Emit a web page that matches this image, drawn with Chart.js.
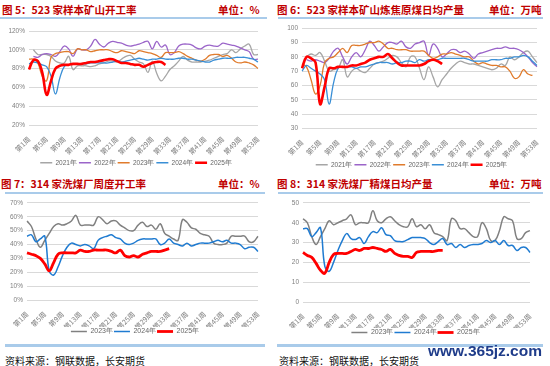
<!DOCTYPE html>
<html><head><meta charset="utf-8">
<script src="https://cdn.jsdelivr.net/npm/chart.js@4.4.1/dist/chart.umd.min.js"></script>
<style>
html,body{margin:0;padding:0;background:#fff;width:550px;height:366px;overflow:hidden;}
body{position:relative;}
.t{position:absolute;font-family:"Noto Sans CJK SC";font-weight:bold;font-size:10.5px;color:#c00000;line-height:12px;white-space:nowrap;}
.ln{position:absolute;background:#a9cbea;z-index:2;}
.src{position:absolute;font-family:"Noto Sans CJK SC";font-size:10px;color:#111;line-height:12px;white-space:nowrap;}
.wm{position:absolute;font-family:"Liberation Sans";font-weight:bold;font-size:15.5px;color:#1f3c8a;line-height:16px;white-space:nowrap;z-index:3;}
canvas{position:absolute;}
</style></head><body>
<div class="t" style="left:2px;top:4px">图 5：523 家样本矿山开工率</div>
<div class="t" style="left:218px;top:4px">单位：%</div>
<div class="t" style="left:277px;top:4px">图 6：523 家样本矿山炼焦原煤日均产量</div>
<div class="t" style="left:489px;top:4px">单位：万吨</div>
<div class="ln" style="left:0;top:17px;width:267px;height:2px"></div>
<div class="ln" style="left:278px;top:17px;width:265px;height:2px"></div>
<div class="t" style="left:1px;top:178px">图 7：314 家洗煤厂周度开工率</div>
<div class="t" style="left:218px;top:178px">单位：%</div>
<div class="t" style="left:277px;top:178px">图 8：314 家洗煤厂精煤日均产量</div>
<div class="t" style="left:489px;top:178px">单位：万吨</div>
<div class="ln" style="left:5px;top:192px;width:260px;height:2px"></div>
<div class="ln" style="left:278px;top:192px;width:265px;height:2px"></div>
<canvas id="c5" width="270" height="156" style="left:0;top:20px"></canvas>
<canvas id="c6" width="273" height="158" style="left:275px;top:20px"></canvas>
<canvas id="c7" width="270" height="150" style="left:0;top:195px"></canvas>
<canvas id="c8" width="270" height="151" style="left:280px;top:195px"></canvas>
<div class="ln" style="left:5px;top:344px;width:260px;height:2.5px"></div>
<div class="ln" style="left:277px;top:344px;width:266px;height:2.5px"></div>
<div class="src" style="left:5px;top:355px">资料来源：钢联数据，长安期货</div>
<div class="src" style="left:279px;top:355px">资料来源：钢联数据，长安期货</div>
<div class="wm" style="left:428px;top:343px">www.365jz.com</div>
<script>
const weeks = Array.from({length:53}, (_, i) => '第' + (i + 1) + '周');

// 图5 开工率 (%)
const fig5_2021 = [null,100,95,95,95,93,88,86,86,93,79,83,83,83,82,83,85,86,88,88,87,90,93,94,90,87,85,76,88,75,67,72,79,83,88,93,89,87,87,87,88,89,91,93,95,96,100,97,101,104,106,95,95];
const fig5_2022 = [null,93,92,95,96,95,93,98,104,101,93,101,100,100,104,111,106,103,107,109,108,107,105,104,105,106,108,109,101,109,103,105,95,97,104,106,106,105,102,101,104,105,104,104,107,106,105,104,102,100,98,90,90];
const fig5_2023 = [90,90,86,72,67,92,96,97,98,98,96,101,100,100,98,99,100,100,100,98,97,99,98,97,96,99,98,97,96,94,92,97,97,97,98,96,93,91,89,88,90,94,95,95,93,94,91,87,86,87,86,84,80];
const fig5_2024 = [85,87,86,84,82,72,53,70,82,84,85,85,85,85,86,86,86,86,86,87,88,87,88,89,90,91,90,89,90,90,91,90,90,90,91,91,90,90,89,88,87,87,89,90,91,91,91,92,92,92,91,90,87];
const fig5_2025 = [79,89,88,76,52,67,80,83,84,84,85,85,85,86,87,87,88,89,90,90,88,86,86,85,84,84,82,84,86,87,87,84];

// 图6 炼焦原煤日均产量 (万吨)
const fig6_2021 = [null,80,82,81,83,77,70,71,72,78,66,70,72,70,69,72,75,76,77,79,81,80,76,73,80,80,72,64,73,66,59,64,68,72,75,77,76,75,75,74,73,72,71,72,75,74,80,78,80,83,84,80,76];
const fig6_2022 = [null,78,77,78,77,76,79,84,86,80,75,80,83,80,85,91,88,84,87,90,90,89,91,87,86,89,90,91,81,89,86,80,82,85,85,83,84,82,79,82,83,84,85,86,86,87,86,86,85,83,80,76,73];
const fig6_2023 = [75,73,64,54,60,76,79,80,83,86,83,88,88,88,89,90,90,91,89,86,86,85,85,85,84,84,84,84,81,79,80,82,82,83,82,81,80,80,77,75,76,75,74,74,73,73,70,65,66,71,68,67,null];
const fig6_2024 = [70,74,72,70,68,64,47,62,72,73,73,73,72,73,73,74,75,76,76,76,75,76,76,77,77,76,78,77,78,78,78,79,79,79,79,79,79,78,77,77,77,77,78,78,78,79,79,80,80,81,80,77,74];
const fig6_2025 = [72,80,79,76,47,59,72,72,73,73,73,74,74,75,76,78,79,80,80,82,79,76,74,74,74,74,74,75,77,78,77,75];

// 图7 洗煤厂周度开工率 (%)
const fig7_2023 = [57,53,44,38,43,48,53,55,54,55,57,61,54,54,54,54,60,58,55,57,57,54,52,50,50,54,56,53,54,51,55,48,46,44,43,58,56,52,51,48,47,46,41,40,40,41,46,46,46,46,42,42,46];
const fig7_2024 = [46,47,42,44,46,21,18,24,32,38,41,40,39,40,39,37,43,45,46,47,45,44,41,40,41,43,44,44,44,44,40,41,44,41,40,39,41,39,40,41,41,41,42,43,42,43,41,41,40,37,38,38,35];
const fig7_2025 = [34,33,32,30,26,21,27,33,34,34,34,34,36,35,35,36,36,36,36,35,34,36,32,31,32,31,33,34,35,35,35,36,37];

// 图8 精煤日均产量 (万吨)
const fig8_2023 = [42,40,33,29,33,37,41,39,40,41,42,44,39,40,40,40,46,41,40,42,43,41,39,38,38,42,38,39,37,39,35,34,33,31,42,41,37,37,35,33,33,40,37,31,31,36,43,42,41,32,32,35,36];
const fig8_2024 = [37,37,33,35,37.5,18,15.5,20,26,31,34.5,32,31.5,32.5,29.5,33,35.5,35,37.5,34,33.5,31,30.5,30.5,31.5,32.5,32.5,32.5,32,30,29,30.5,32,29,29.5,27.5,29,27.5,28.5,29,29,29.5,31,30,31,29,31,28.5,28.5,26,27.5,27.5,25];
const fig8_2025 = [25,23.5,22.5,19.5,16,14.5,20,24,24.5,24.5,24.5,25.5,26.5,26,27,27,27.5,27,26.5,25.5,26.5,24.5,23.5,23,23,22.5,25,25.5,25.5,25.5,25.5,26,26];

const C = {g:'#a6a6a6', p:'#9b65c9', o:'#e07b2c', b:'#3a8fd6', r:'#ff0000', g2:'#808080', b2:'#1f7bd1'};

function build(id, series, o) {
  new Chart(document.getElementById(id), {
    type: 'line',
    data: {
      labels: weeks,
      datasets: series.map((s, i) => ({
        label: s.label, data: s.data, borderColor: s.color, backgroundColor: s.color,
        borderWidth: s.w, pointRadius: 0, pointHoverRadius: 0, pointStyle: 'line',
        tension: 0.4, fill: false, order: series.length - i
      }))
    },
    options: {
      responsive: false, animation: false, devicePixelRatio: 1,
      layout: {padding: {left: o.padL, right: o.padR, top: o.padT, bottom: 0}},
      plugins: {
        tooltip: {enabled: false},
        legend: {position: 'bottom', labels: {
          usePointStyle: true, pointStyleWidth: o.lw, boxHeight: o.lf,
          font: {family: 'Liberation Sans', size: o.lf}, color: '#666666', padding: o.lp,
          sort: (a, b) => a.datasetIndex - b.datasetIndex
        }}
      },
      scales: {
        x: {offset: false, grid: {display: false}, border: {display: false},
          ticks: {autoSkip: false, maxRotation: 45, minRotation: 45, padding: 2, color: '#7f7f7f',
            font: {family: 'Noto Sans CJK SC', size: 7},
            callback: (v, i) => (i % 4 === 0 ? weeks[i] : '')},
          afterFit: s => { s.height = o.xh; }},
        y: {min: o.min, max: o.max,
          grid: {color: '#d9d9d9', drawTicks: false, lineWidth: 1}, border: {display: false},
          ticks: {stepSize: o.step, padding: 4, color: '#7f7f7f', font: {family: 'Liberation Sans', size: 6.5},
            callback: v => v + o.suf},
          afterFit: s => { s.width = o.yw; }},
        yr: {position: 'right', display: true, grid: {display: false}, border: {display: false},
          ticks: {display: false}, afterFit: s => { s.width = o.rw; }}
      }
    }
  });
}

build('c5', [
  {label: '2021年', data: fig5_2021, color: C.g, w: 1.3},
  {label: '2022年', data: fig5_2022, color: C.p, w: 1.3},
  {label: '2023年', data: fig5_2023, color: C.o, w: 1.3},
  {label: '2024年', data: fig5_2024, color: C.b, w: 1.3},
  {label: '2025年', data: fig5_2025, color: C.r, w: 2.6}
], {padL: 5, padR: 3, rw: 9, padT: 11, yw: 24, xh: 32.5, min: 20, max: 120, step: 10, suf: '%', lw: 12, lf: 6.5, lp: 2});

build('c6', [
  {label: '2021年', data: fig6_2021, color: C.g, w: 1.3},
  {label: '2022年', data: fig6_2022, color: C.p, w: 1.3},
  {label: '2023年', data: fig6_2023, color: C.o, w: 1.3},
  {label: '2024年', data: fig6_2024, color: C.b, w: 1.3},
  {label: '2025年', data: fig6_2025, color: C.r, w: 2.6}
], {padL: 7, padR: 7, rw: 4, padT: 8.3, yw: 20, xh: 31.2, min: 30, max: 100, step: 10, suf: '', lw: 12, lf: 6.5, lp: 2});

build('c7', [
  {label: '2023年', data: fig7_2023, color: C.g2, w: 1.5},
  {label: '2024年', data: fig7_2024, color: C.b2, w: 1.5},
  {label: '2025年', data: fig7_2025, color: C.r, w: 2.8}
], {padL: 5, padR: 5, rw: 7, padT: 6.7, yw: 22, xh: 27, min: 0, max: 70, step: 10, suf: '%', lw: 16, lf: 7, lp: 1});

build('c8', [
  {label: '2023年', data: fig8_2023, color: C.g2, w: 1.5},
  {label: '2024年', data: fig8_2024, color: C.b2, w: 1.5},
  {label: '2025年', data: fig8_2025, color: C.r, w: 2.8}
], {padL: 5, padR: 4, rw: 16, padT: 5.7, yw: 18, xh: 26, min: 0, max: 50, step: 5, suf: '', lw: 16, lf: 7, lp: 1});
</script>
</body></html>
